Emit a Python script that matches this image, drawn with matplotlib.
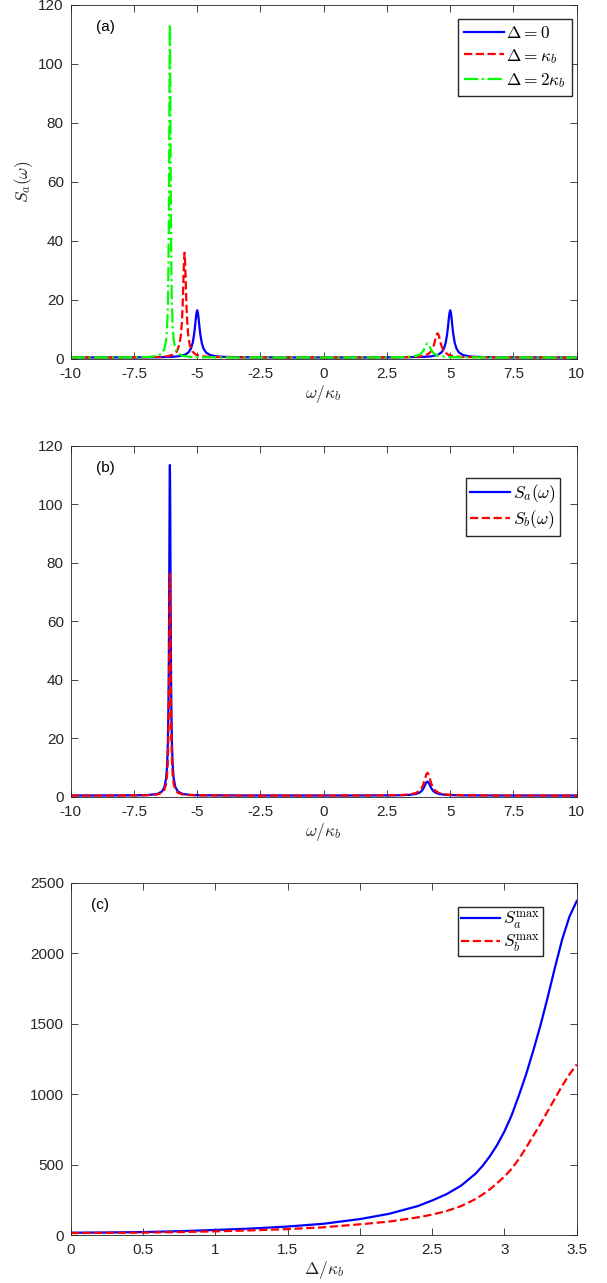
import matplotlib
matplotlib.use("Agg")
import matplotlib.pyplot as plt

plt.rcParams["font.family"] = ["Liberation Sans", "DejaVu Sans"]
plt.rcParams["mathtext.fontset"] = "cm"
plt.rcParams["axes.unicode_minus"] = False

# ---- panel (a): S_a(w) for three detunings ----
w_d0 = [-10, -8, -7, -6.5, -6, -5.75, -5.5, -5.35, -5.25, -5.18, -5.12, -5.09, -5.06, -5.03, -5,
        -4.97, -4.94, -4.91, -4.88, -4.82, -4.75, -4.65, -4.5, -4.25, -4, -3, -1.5, 0, 1.5, 3,
        4, 4.25, 4.5, 4.65, 4.75, 4.82, 4.88, 4.91, 4.94, 4.97, 5,
        5.03, 5.06, 5.09, 5.12, 5.18, 5.25, 5.35, 5.5, 5.75, 6, 6.5, 7, 8, 10]
s_d0 = [0.51, 0.53, 0.56, 0.6, 0.73, 0.9, 1.37, 2.18, 3.5, 5.42, 8.5, 10.74, 13.3, 15.56, 16.5,
        15.56, 13.3, 10.74, 8.5, 5.42, 3.5, 2.18, 1.37, 0.9, 0.73, 0.56, 0.52, 0.52, 0.52, 0.56,
        0.73, 0.9, 1.37, 2.18, 3.5, 5.42, 8.5, 10.74, 13.3, 15.56, 16.5,
        15.56, 13.3, 10.74, 8.5, 5.42, 3.5, 2.18, 1.37, 0.9, 0.73, 0.6, 0.56, 0.53, 0.51]

w_d1 = [-10, -8, -7, -6.5, -6.2, -5.95, -5.8, -5.7, -5.64, -5.6, -5.575, -5.56, -5.54, -5.52, -5.5,
        -5.48, -5.46, -5.44, -5.425, -5.4, -5.36, -5.3, -5.2, -5.05, -4.8, -4.5, -3.5, -2, 0, 2,
        3, 3.5, 3.8, 4.05, 4.2, 4.3, 4.35, 4.38, 4.42, 4.46, 4.5,
        4.54, 4.58, 4.62, 4.65, 4.7, 4.8, 4.95, 5.2, 5.5, 6, 7, 10]
s_d1 = [0.51, 0.53, 0.59, 0.7, 0.9, 1.46, 2.59, 4.88, 8.42, 13.28, 18.25, 22.15, 28.15, 33.64, 36.0,
        33.64, 28.15, 22.15, 18.25, 13.28, 8.42, 4.88, 2.59, 1.46, 0.9, 0.7, 0.55, 0.52, 0.52, 0.53,
        0.59, 0.68, 0.86, 1.32, 2.14, 3.45, 4.6, 5.5, 6.89, 8.16, 8.7,
        8.16, 6.89, 5.5, 4.6, 3.45, 2.14, 1.32, 0.86, 0.68, 0.58, 0.53, 0.51]

w_d2 = [-10, -8.5, -7.28, -6.88, -6.58, -6.4, -6.3, -6.23, -6.19, -6.16, -6.14, -6.125, -6.115,
        -6.11, -6.1, -6.09, -6.08, -6.07, -6.06, -6.05, -6.045, -6.035, -6.02, -6.0, -5.97, -5.93,
        -5.86, -5.76, -5.58, -5.28, -4.88, -3.5, -1, 1, 2.6, 3.1, 3.4, 3.65, 3.8, 3.88, 3.94, 4.0,
        4.05, 4.1, 4.15, 4.2, 4.26, 4.32, 4.4, 4.55, 4.8, 5.1, 5.6, 7, 10]
s_d2 = [0.51, 0.52, 0.6, 0.72, 1.05, 1.84, 3.29, 6.33, 10.89, 18.65, 29.2, 43.1, 57.0,
        65.6, 85.7, 105.0, 113.5, 105.0, 85.7, 65.6, 57.0, 43.1, 29.2, 18.65, 10.89, 6.33,
        3.29, 1.84, 1.05, 0.72, 0.6, 0.52, 0.51, 0.51, 0.55, 0.62, 0.74, 1.04, 1.56, 2.16, 2.9, 3.95,
        4.87, 5.3, 4.87, 3.95, 2.9, 2.16, 1.56, 1.04, 0.74, 0.62, 0.55, 0.51, 0.5]

# ---- panel (b): S_a and S_b at Delta = 2 kappa_b (same w grid as w_d2) ----
sb_d2 = [0.51, 0.51, 0.56, 0.64, 0.87, 1.4, 2.4, 4.4, 7.5, 12.7, 19.75, 29.1, 38.4,
         44.2, 57.6, 70.6, 76.3, 70.6, 57.6, 44.2, 38.4, 29.1, 19.75, 12.7, 7.5, 4.4,
         2.4, 1.4, 0.87, 0.64, 0.56, 0.51, 0.51, 0.52, 0.59, 0.7, 0.89, 1.38, 2.23, 3.2, 4.4, 6.11,
         7.61, 8.3, 7.61, 6.11, 4.4, 3.2, 2.23, 1.38, 0.89, 0.7, 0.59, 0.52, 0.51]

# ---- panel (c): peak heights vs detuning ----
delta = [0, 0.25, 0.5, 0.75, 1.0, 1.25, 1.5, 1.75, 2.0, 2.2, 2.4, 2.5, 2.6, 2.7, 2.8, 2.85, 2.9,
         2.95, 3.0, 3.05, 3.1, 3.15, 3.2, 3.25, 3.3, 3.35, 3.4, 3.45, 3.5]
sa_max = [16.5, 18, 21, 27, 36, 46, 60, 80, 113, 150, 205, 245, 290, 350, 435, 492, 560,
          640, 735, 850, 990, 1140, 1310, 1490, 1690, 1900, 2100, 2260, 2370]
sb_max = [14, 15.5, 17, 21, 26, 33, 42, 55, 76, 95, 125, 145, 170, 205, 255, 288, 325,
          368, 415, 470, 540, 620, 705, 790, 880, 970, 1060, 1140, 1210]

w_ticks = [-10, -7.5, -5, -2.5, 0, 2.5, 5, 7.5, 10]
w_labels = ["-10", "-7.5", "-5", "-2.5", "0", "2.5", "5", "7.5", "10"]
d_ticks = [0, 0.5, 1, 1.5, 2, 2.5, 3, 3.5]
d_labels = ["0", "0.5", "1", "1.5", "2", "2.5", "3", "3.5"]

fig = plt.figure(figsize=(6.07, 12.83), dpi=100)
L, W = 0.1165, 0.8336
ax_a = fig.add_axes([L, 0.7202, W, 0.2761])
ax_b = fig.add_axes([L, 0.3788, W, 0.2736])
ax_c = fig.add_axes([L, 0.0374, W, 0.2746])

leg_kw = dict(loc="upper right", fontsize=12.5, fancybox=False, edgecolor="#262626",
              framealpha=1, handlelength=2.3, handletextpad=0.15, borderaxespad=0)


def style(ax):
    ax.tick_params(direction="in", top=True, right=True, labelsize=11,
                   colors="#262626", length=5, width=0.6)
    ax.tick_params(axis="x", pad=6)
    ax.tick_params(axis="y", pad=5)
    for s in ax.spines.values():
        s.set_color("#262626")
        s.set_linewidth(0.6)


lw = 1.6
ax_a.plot(w_d0, s_d0, color="blue", lw=lw, label=r"$\Delta=0$")
ax_a.plot(w_d1, s_d1, color="red", lw=lw, ls="--", label=r"$\Delta=\kappa_b$")
ax_a.plot(w_d2, s_d2, color=(0, 1, 0), lw=lw, ls="-.", label=r"$\Delta=2\kappa_b$")
ax_a.set_xlim(-10, 10)
ax_a.set_ylim(0, 120)
ax_a.set_xticks(w_ticks, w_labels)
ax_a.set_yticks(range(0, 121, 20))
ax_a.set_xlabel(r"$\omega/\kappa_b$", fontsize=12.5, color="#262626", labelpad=1)
ax_a.set_ylabel(r"$S_a(\omega)$", fontsize=12.5, color="#262626", labelpad=2)
ax_a.text(0.05, 0.925, "(a)", transform=ax_a.transAxes, fontsize=11, color="black")
ax_a.legend(bbox_to_anchor=(0.991, 0.959), borderpad=0.35, labelspacing=0.3, **leg_kw)
style(ax_a)

ax_b.plot(w_d2, s_d2, color="blue", lw=lw, label=r"$S_a(\omega)$")
ax_b.plot(w_d2, sb_d2, color="red", lw=lw, ls="--", label=r"$S_b(\omega)$")
ax_b.set_xlim(-10, 10)
ax_b.set_ylim(0, 120)
ax_b.set_xticks(w_ticks, w_labels)
ax_b.set_yticks(range(0, 121, 20))
ax_b.set_xlabel(r"$\omega/\kappa_b$", fontsize=12.5, color="#262626", labelpad=1)
ax_b.text(0.05, 0.925, "(b)", transform=ax_b.transAxes, fontsize=11, color="black")
ax_b.legend(bbox_to_anchor=(0.967, 0.909), borderpad=0.25, labelspacing=0.2, **leg_kw)
style(ax_b)

ax_c.plot(delta, sa_max, color="blue", lw=lw, label=r"$S_a^{\rm max}$")
ax_c.plot(delta, sb_max, color="red", lw=lw, ls="--", label=r"$S_b^{\rm max}$")
ax_c.set_xlim(0, 3.5)
ax_c.set_ylim(0, 2500)
ax_c.set_xticks(d_ticks, d_labels)
ax_c.set_yticks(range(0, 2501, 500))
ax_c.set_xlabel(r"$\Delta/\kappa_b$", fontsize=12.5, color="#262626", labelpad=1)
ax_c.text(0.04, 0.925, "(c)", transform=ax_c.transAxes, fontsize=11, color="black")
ax_c.legend(bbox_to_anchor=(0.933, 0.931), borderpad=0.15, labelspacing=0.05, **leg_kw)
style(ax_c)

fig.savefig("out.png", dpi=100)
